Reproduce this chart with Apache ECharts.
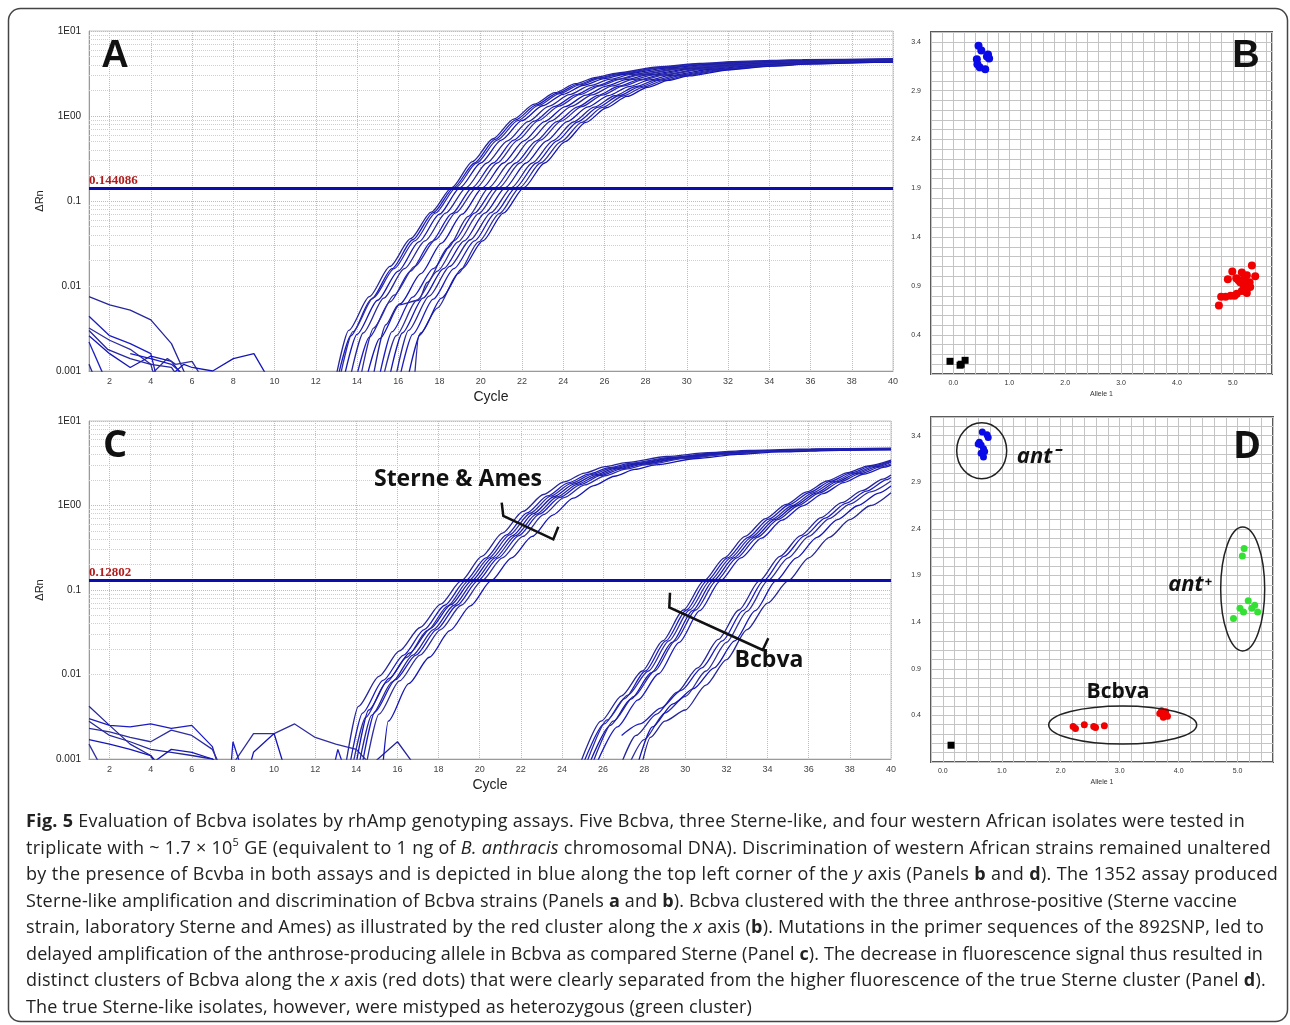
<!DOCTYPE html>
<html><head><meta charset="utf-8">
<script src="https://cdn.jsdelivr.net/npm/echarts@6/dist/echarts.min.js"></script>
<style>
html,body{margin:0;padding:0;background:#fff;}
#chart{position:absolute;left:0;top:0;width:1290px;height:1025px;}
#caption{position:absolute;left:26px;top:807px;font-family:'Open Sans',sans-serif;font-size:18px;line-height:26.5px;color:#222;}
#caption div{white-space:nowrap;}
#caption sup{font-size:11px;line-height:0;vertical-align:8px;}
</style></head><body>
<div id="chart"></div>
<div id="caption">
<div><b>Fig. 5</b> Evaluation of Bcbva isolates by rhAmp genotyping assays. Five Bcbva, three Sterne-like, and four western African isolates were tested in</div>
<div>triplicate with ~ 1.7 × 10<sup>5</sup> GE (equivalent to 1 ng of <i>B. anthracis</i> chromosomal DNA). Discrimination of western African strains remained unaltered</div>
<div>by the presence of Bcvba in both assays and is depicted in blue along the top left corner of the <i>y</i> axis (Panels <b>b</b> and <b>d</b>). The 1352 assay produced</div>
<div>Sterne-like amplification and discrimination of Bcbva strains (Panels <b>a</b> and <b>b</b>). Bcbva clustered with the three anthrose-positive (Sterne vaccine</div>
<div>strain, laboratory Sterne and Ames) as illustrated by the red cluster along the <i>x</i> axis (<b>b</b>). Mutations in the primer sequences of the 892SNP, led to</div>
<div>delayed amplification of the anthrose-producing allele in Bcbva as compared Sterne (Panel <b>c</b>). The decrease in fluorescence signal thus resulted in</div>
<div>distinct clusters of Bcbva along the <i>x</i> axis (red dots) that were clearly separated from the higher fluorescence of the true Sterne cluster (Panel <b>d</b>).</div>
<div>The true Sterne-like isolates, however, were mistyped as heterozygous (green cluster)</div>
</div>
<script>
// ---------- tick labels ----------
const cycleTicks = [2,4,6,8,10,12,14,16,18,20,22,24,26,28,30,32,34,36,38,40];
const logTickText = ['0.001','0.01','0.1','1E00','1E01'];
const alleleXTicks = [0,1,2,3,4,5];
const alleleYTicks = [0.4,0.9,1.4,1.9,2.4,2.9,3.4];
const minorLogLines = [0.002,0.003,0.004,0.005,0.006,0.007,0.008,0.009,0.02,0.03,0.04,0.05,0.06,0.07,0.08,0.09,0.2,0.3,0.4,0.5,0.6,0.7,0.8,0.9,2,3,4,5,6,7,8,9];
const thresholdA = 0.144086;
const thresholdC = 0.12802;

// ---------- Panel A : amplification curves [cycle, dRn] ----------
const A_amp = [
 [[13.0,.0009],[13.6,.003],[14.6,.0075],[15.6,.017],[16.6,.036],[17.6,.074],[18.6,.144],[19.6,.29],[20.6,.54],[21.6,.92],[22.6,1.38],[23.6,1.88],[24.6,2.4],[25.6,2.85],[26.6,3.2],[28.6,3.78],[30.6,4.15],[32.6,4.4],[35.6,4.6],[40,4.72]],
 [[13.1,.0009],[13.7,.0026],[14.7,.007],[15.7,.016],[16.7,.035],[17.7,.073],[18.7,.144],[19.7,.28],[20.7,.53],[21.7,.9],[22.7,1.35],[23.7,1.85],[24.7,2.35],[25.7,2.8],[26.7,3.15],[28.7,3.72],[30.7,4.1],[32.7,4.35],[35.7,4.55],[40,4.65]],
 [[13.2,.0009],[13.8,.0029],[14.8,.0073],[15.8,.016],[16.8,.034],[17.8,.072],[18.8,.144],[19.8,.28],[20.8,.52],[21.8,.88],[22.8,1.33],[23.8,1.82],[24.8,2.32],[25.8,2.78],[26.8,3.12],[28.8,3.7],[30.8,4.05],[32.8,4.32],[35.8,4.52],[40,4.62]],
 [[13.4,.0009],[14.0,.0027],[15.0,.0068],[16.0,.015],[17.0,.033],[18.0,.07],[19.0,.144],[20.0,.28],[21.0,.52],[22.0,.88],[23.0,1.32],[24.0,1.8],[25.0,2.3],[26.0,2.75],[27.0,3.1],[29.0,3.65],[31.0,4.02],[33.0,4.28],[36.0,4.48],[40,4.58]],
 [[13.7,.0009],[14.3,.0028],[15.3,.0072],[16.3,.016],[17.3,.034],[18.3,.072],[19.3,.144],[20.3,.28],[21.3,.51],[22.3,.86],[23.3,1.3],[24.3,1.78],[25.3,2.28],[26.3,2.72],[27.3,3.08],[29.3,3.62],[31.3,4.0],[33.3,4.25],[36.3,4.45],[40,4.56]],
 [[14.0,.0009],[14.6,.0025],[15.6,.0065],[16.6,.015],[17.6,.033],[18.6,.071],[19.6,.144],[20.6,.28],[21.6,.52],[22.6,.87],[23.6,1.3],[24.6,1.77],[25.6,2.26],[26.6,2.7],[27.6,3.05],[29.6,3.6],[31.6,3.96],[33.6,4.2],[36.6,4.4],[40,4.5]],
 [[14.2,.0009],[14.8,.0032],[15.8,.0078],[16.8,.017],[17.8,.035],[18.8,.073],[19.8,.144],[20.8,.28],[21.8,.52],[22.8,.88],[23.8,1.31],[24.8,1.78],[25.8,2.27],[26.8,2.72],[27.8,3.07],[29.8,3.62],[31.8,3.98],[33.8,4.22],[36.8,4.42],[40,4.52]],
 [[14.5,.0009],[15.1,.0024],[16.1,.0062],[17.1,.014],[18.1,.032],[19.1,.07],[20.1,.144],[21.1,.28],[22.1,.51],[23.1,.86],[24.1,1.29],[25.1,1.76],[26.1,2.25],[27.1,2.7],[28.1,3.05],[30.1,3.58],[32.1,3.95],[34.1,4.2],[37.1,4.38],[40,4.46]],
 [[14.8,.0009],[15.4,.0035],[16.0,.006],[17.0,.0068],[17.4,.011],[18.4,.028],[19.4,.066],[20.4,.144],[21.4,.28],[22.4,.52],[23.4,.87],[24.4,1.3],[25.4,1.77],[26.4,2.26],[27.4,2.7],[28.4,3.05],[30.4,3.6],[32.4,3.96],[34.4,4.2],[37.4,4.4],[40,4.48]],
 [[15.1,.0009],[15.7,.0029],[16.7,.0074],[17.7,.016],[18.7,.034],[19.7,.072],[20.7,.144],[21.7,.28],[22.7,.51],[23.7,.86],[24.7,1.28],[25.7,1.75],[26.7,2.24],[27.7,2.68],[28.7,3.03],[30.7,3.57],[32.7,3.94],[34.7,4.17],[37.7,4.35],[40,4.42]],
 [[15.3,.0009],[15.9,.0026],[16.9,.0068],[17.9,.015],[18.9,.033],[19.9,.071],[20.9,.144],[21.9,.28],[22.9,.52],[23.9,.87],[24.9,1.29],[25.9,1.76],[26.9,2.25],[27.9,2.68],[28.9,3.03],[30.9,3.58],[32.9,3.95],[34.9,4.18],[37.9,4.37],[40,4.43]],
 [[15.6,.0009],[16.2,.0028],[17.2,.0072],[18.2,.016],[19.2,.034],[20.2,.072],[21.2,.144],[22.2,.28],[23.2,.51],[24.2,.86],[25.2,1.28],[26.2,1.74],[27.2,2.22],[28.2,2.66],[29.2,3.0],[31.2,3.55],[33.2,3.92],[35.2,4.15],[38.2,4.33],[40,4.38]],
 [[15.9,.0009],[16.5,.003],[17.5,.0076],[18.5,.017],[19.5,.035],[20.5,.073],[21.5,.144],[22.5,.28],[23.5,.51],[24.5,.85],[25.5,1.27],[26.5,1.73],[27.5,2.21],[28.5,2.65],[29.5,3.0],[31.5,3.54],[33.5,3.9],[35.5,4.14],[38.5,4.32],[40,4.36]],
 [[16.1,.0009],[16.7,.0027],[17.7,.007],[18.7,.016],[19.7,.034],[20.7,.072],[21.7,.144],[22.7,.28],[23.7,.51],[24.7,.85],[25.7,1.27],[26.7,1.73],[27.7,2.2],[28.7,2.64],[29.7,2.98],[31.7,3.52],[33.7,3.88],[35.7,4.12],[38.7,4.3],[40,4.34]],
 [[16.8,.0009],[17.0,.0026],[17.9,.0055],[18.9,.014],[19.9,.033],[20.9,.071],[21.9,.144],[22.9,.28],[23.9,.5],[24.9,.84],[25.9,1.26],[26.9,1.72],[27.9,2.19],[28.9,2.63],[29.9,2.97],[31.9,3.51],[33.9,3.87],[35.9,4.1],[38.9,4.28],[40,4.32]],
 [[16.5,.0009],[17.1,.0028],[18.1,.0072],[19.1,.016],[20.1,.034],[21.1,.072],[22.1,.144],[23.1,.28],[24.1,.5],[25.1,.84],[26.1,1.25],[27.1,1.7],[28.1,2.18],[29.1,2.62],[30.1,2.96],[32.1,3.5],[34.1,3.86],[36.1,4.1],[39.1,4.27],[40,4.3]]
];
// Panel A : baseline noise traces
const A_noise = [
 [[1,.0075],[2,.006],[3,.0052],[4,.004],[5,.0021],[5.6,.001],[5.8,.0008]],
 [[1,.0044],[2,.0026],[3,.0021],[4,.0016],[4.3,.0008]],
 [[1,.0032],[2,.0023],[3,.0018],[4,.0012],[4.2,.0008]],
 [[1,.0026],[2,.0016],[3,.0011],[4,.0015],[5,.0013],[5.5,.0009]],
 [[1,.003],[1.9,.0018],[3,.0014],[4,.0012],[5,.0011],[5.4,.0008]],
 [[1,.0022],[1.7,.0009]],
 [[4,.0009],[4.8,.0014],[5.2,.0012],[6,.0013],[6.4,.0009]],
 [[5,.0009],[5.6,.0012],[6,.0011],[7,.001],[8,.0014],[9,.0016],[9.6,.0009]],
 [[1,.0012],[1.3,.0008]],
 [[3,.0016],[4,.0014],[5,.0012],[5.6,.0009]]
];

// ---------- Panel C ----------
const C_sterne = [
 [[13.5,.0009],[14.1,.0042],[15.1,.0095],[16.1,.019],[17.1,.036],[18.1,.068],[19.1,.128],[20.1,.25],[21.1,.47],[22.1,.85],[23.1,1.35],[24.1,1.9],[25.1,2.42],[26.1,2.88],[27.1,3.22],[29.1,3.8],[31.1,4.22],[33.1,4.5],[36.1,4.68],[40,4.78]],
 [[13.7,.0009],[14.3,.0035],[15.3,.0085],[16.3,.017],[17.3,.034],[18.3,.066],[19.3,.128],[20.3,.24],[21.3,.45],[22.3,.82],[23.3,1.3],[24.3,1.85],[25.3,2.35],[26.3,2.8],[27.3,3.15],[29.3,3.72],[31.3,4.15],[33.3,4.42],[36.3,4.62],[40,4.72]],
 [[13.85,.0009],[14.45,.0031],[15.45,.008],[16.45,.016],[17.45,.033],[18.45,.065],[19.45,.128],[20.45,.24],[21.45,.45],[22.45,.81],[23.45,1.29],[24.45,1.83],[25.45,2.33],[26.45,2.78],[27.45,3.13],[29.45,3.7],[31.45,4.12],[33.45,4.4],[36.45,4.6],[40,4.7]],
 [[14.0,.0009],[14.6,.0038],[15.6,.009],[16.6,.018],[17.6,.035],[18.6,.067],[19.6,.128],[20.6,.24],[21.6,.44],[22.6,.8],[23.6,1.27],[24.6,1.8],[25.6,2.3],[26.6,2.75],[27.6,3.1],[29.6,3.68],[31.6,4.1],[33.6,4.38],[36.6,4.58],[40,4.68]],
 [[14.15,.0009],[14.75,.0033],[15.75,.0082],[16.75,.017],[17.75,.034],[18.75,.066],[19.75,.128],[20.75,.24],[21.75,.44],[22.75,.79],[23.75,1.26],[24.75,1.78],[25.75,2.28],[26.75,2.73],[27.75,3.08],[29.75,3.66],[31.75,4.08],[33.75,4.36],[36.75,4.56],[40,4.66]],
 [[14.3,.0009],[14.9,.0036],[15.9,.0087],[16.9,.017],[17.9,.034],[18.9,.066],[19.9,.128],[20.9,.24],[21.9,.44],[22.9,.79],[23.9,1.25],[24.9,1.77],[25.9,2.27],[26.9,2.72],[27.9,3.07],[29.9,3.65],[31.9,4.07],[33.9,4.35],[36.9,4.55],[40,4.64]],
 [[14.5,.0009],[15.1,.0034],[16.1,.0084],[17.1,.017],[18.1,.034],[19.1,.066],[20.1,.128],[21.1,.24],[22.1,.43],[23.1,.78],[24.1,1.24],[25.1,1.75],[26.1,2.25],[27.1,2.7],[28.1,3.05],[30.1,3.63],[32.1,4.05],[34.1,4.33],[37.1,4.53],[40,4.6]],
 [[15.3,.0009],[15.55,.0028],[16.55,.0078],[17.55,.016],[18.55,.033],[19.55,.065],[20.55,.128],[21.55,.24],[22.55,.43],[23.55,.77],[24.55,1.22],[25.55,1.72],[26.55,2.22],[27.55,2.67],[28.55,3.02],[30.55,3.6],[32.55,4.02],[34.55,4.3],[37.55,4.5],[40,4.56]]
];
const C_bcbva_early = [
 [[24.9,.0009],[25.9,.0028],[26.9,.0056],[27.9,.011],[28.9,.025],[29.9,.058],[30.9,.128],[31.9,.24],[32.9,.43],[33.9,.7],[34.9,1.03],[35.9,1.45],[36.9,1.95],[37.9,2.45],[38.9,2.95],[40,3.45]],
 [[25.05,.0009],[26.05,.0026],[27.05,.0052],[28.05,.011],[29.05,.025],[30.05,.058],[31.05,.128],[32.05,.24],[33.05,.42],[34.05,.69],[35.05,1.02],[36.05,1.43],[37.05,1.93],[38.05,2.43],[39.05,2.92],[40,3.38]],
 [[25.2,.0009],[26.2,.0029],[27.2,.0057],[28.2,.011],[29.2,.025],[30.2,.058],[31.2,.128],[32.2,.24],[33.2,.42],[34.2,.68],[35.2,1.0],[36.2,1.41],[37.2,1.91],[38.2,2.41],[39.2,2.9],[40,3.32]],
 [[25.35,.0009],[26.35,.0025],[27.35,.0051],[28.35,.0105],[29.35,.024],[30.35,.057],[31.35,.128],[32.35,.24],[33.35,.42],[34.35,.68],[35.35,1.0],[36.35,1.4],[37.35,1.9],[38.35,2.4],[39.35,2.88],[40,3.25]],
 [[25.5,.0009],[26.5,.0028],[27.5,.0055],[28.5,.011],[29.5,.025],[30.5,.058],[31.5,.128],[32.5,.24],[33.5,.42],[34.5,.68],[35.5,1.0],[36.5,1.4],[37.5,1.89],[38.5,2.38],[39.5,2.86],[40,3.12]],
 [[25.7,.0009],[26.7,.0024],[27.7,.005],[28.7,.0102],[29.7,.024],[30.7,.057],[31.7,.128],[32.7,.24],[33.7,.41],[34.7,.67],[35.7,.99],[36.7,1.38],[37.7,1.87],[38.7,2.36],[39.7,2.84],[40,3.0]]
];
const C_bcbva_late = [
 [[26.9,.0009],[27.6,.0019],[28.6,.0034],[29.6,.0062],[30.6,.012],[31.6,.026],[32.6,.058],[33.6,.128],[34.6,.25],[35.6,.44],[36.6,.72],[37.6,1.08],[38.6,1.5],[39.6,2.05],[40,2.3]],
 [[26.9,.0019],[27.8,.0026],[28.8,.004],[29.8,.0065],[30.8,.012],[31.8,.025],[32.8,.057],[33.8,.128],[34.8,.25],[35.8,.44],[36.8,.71],[37.8,1.06],[38.8,1.48],[39.8,2.02],[40,2.15]],
 [[27.3,.0009],[28,.0017],[29,.0035],[30,.0055],[31,.011],[32,.024],[33,.056],[34,.128],[35,.24],[36,.43],[37,.7],[38,1.04],[39,1.45],[40,1.95]],
 [[27.7,.0009],[28.4,.0024],[29.4,.0045],[30.4,.0068],[31.4,.012],[32.4,.025],[33.4,.057],[34.4,.128],[35.4,.24],[36.4,.42],[37.4,.68],[38.4,1.0],[39.4,1.4],[40,1.7]],
 [[27.9,.0009],[28.3,.0018],[29.0,.0028],[30.0,.0038],[31.0,.0075],[32.0,.015],[33.0,.034],[34.0,.07],[35.0,.128],[36.0,.24],[37.0,.42],[38.0,.68],[39.0,1.0],[40,1.42]]
];
const C_noise = [
 [[1,.0042],[2,.0025],[3,.0015],[4,.0011],[4.3,.0008]],
 [[1,.003],[2,.0025],[3,.0024],[4,.0026],[5,.0023],[6,.0025],[7,.0014],[7.3,.0008]],
 [[1,.0023],[2,.0021],[3,.0018],[4,.0016],[5,.0022],[6,.0019],[7,.0013],[7.4,.0008]],
 [[1,.0017],[2,.0015],[3,.0013],[4,.0011],[4.5,.0008]],
 [[1,.0028],[2,.0019],[3,.0016],[4,.0013],[5,.0012],[6,.0011],[7,.001],[7.5,.0008]],
 [[7.9,.0008],[8,.0016],[8.4,.0008]],
 [[7.9,.0008],[9,.002],[10,.002],[11,.0026],[12,.0018],[13,.0015],[14,.0013],[14.8,.0008]],
 [[8.8,.0008],[9,.0012],[10,.002],[10.5,.0008]],
 [[14.6,.0008],[16,.0016],[16.9,.0008]],
 [[12.9,.0008],[13.1,.0013],[13.4,.0008]],
 [[1,.0015],[1.6,.0008]],
 [[3.8,.0008],[5,.0013],[6,.0012],[7,.001],[7.5,.0008]]
];

// ---------- Panel B : allelic discrimination [allele1, allele2] ----------
const B_blue = [[0.45,3.36],[0.5,3.31],[0.42,3.22],[0.62,3.27],[0.64,3.23],[0.47,3.14],[0.57,3.12],[0.43,3.17],[0.6,3.25]];
const B_red = [[4.75,0.70],[4.79,0.79],[4.87,0.79],[4.96,0.80],[5.03,0.80],[5.07,0.82],[4.91,0.97],[4.99,1.05],[5.06,0.98],[5.16,1.04],[5.25,1.01],[5.34,1.11],[5.40,1.0],[5.13,0.94],[5.19,0.91],[5.28,0.91],[5.22,0.87],[5.31,0.89],[5.25,0.83],[5.16,0.85],[5.10,0.96],[5.30,0.94],[5.19,0.97]];
const B_black = [[-0.06,0.13],[0.14,0.10],[0.21,0.14],[0.12,0.09]];

// ---------- Panel D ----------
const D_blue = [[0.67,3.44],[0.75,3.41],[0.77,3.38],[0.62,3.33],[0.65,3.30],[0.69,3.26],[0.71,3.23],[0.65,3.21],[0.69,3.17],[0.60,3.31]];
const D_green = [[5.11,2.19],[5.08,2.11],[5.18,1.63],[5.04,1.55],[5.10,1.51],[4.93,1.44],[5.29,1.58],[5.34,1.51],[5.24,1.55]];
const D_red = [[2.21,0.28],[2.25,0.26],[2.40,0.30],[2.56,0.28],[2.59,0.27],[2.74,0.29],[3.71,0.45],[3.77,0.42],[3.74,0.38],[3.81,0.39],[3.68,0.42],[3.78,0.44]];
const D_black = [[0.14,0.08]];

// ---------- build ----------
const curveColors = ['#26269c','#1c1cc4','#2e2ea0','#1616b8'];
const series = [];
function addCurves(list, xi, smooth){
  list.forEach((d,i)=>series.push({type:'line', xAxisIndex:xi, yAxisIndex:xi, data:d, showSymbol:false, silent:true,
    smooth: smooth ? 0.25 : false, smoothMonotone: 'x', clip:true, z:3,
    lineStyle:{width:1.3, color:curveColors[i%curveColors.length]}}));
}
function addGrid(xi, thr, label){
  series.push({type:'line', xAxisIndex:xi, yAxisIndex:xi, data:[[1,0.001]], showSymbol:false, silent:true,
    lineStyle:{opacity:0},
    markLine:{silent:true, symbol:'none', z:1, animation:false, label:{show:false},
      lineStyle:{type:'dotted', color:'#cfcfcf', width:1},
      data: minorLogLines.map(v=>({yAxis:v}))}});
  series.push({type:'line', xAxisIndex:xi, yAxisIndex:xi, data:[[1,thr]], showSymbol:false, silent:true,
    lineStyle:{opacity:0},
    markLine:{silent:true, symbol:'none', z:6, animation:false,
      lineStyle:{type:'solid', color:'#0c0cb0', width:3},
      label:{show:true, position:'insideStartTop', distance:[0,1], formatter:label,
        color:'#b01c1c', fontFamily:'Liberation Serif', fontWeight:'bold', fontSize:13},
      data:[{yAxis:thr}]}});
}
addGrid(0, thresholdA, String(thresholdA));
addGrid(2, thresholdC, String(thresholdC));
addCurves(A_noise, 0, false);
addCurves(A_amp, 0, true);
addCurves(C_noise, 2, false);
addCurves(C_sterne, 2, true);
addCurves(C_bcbva_early, 2, true);
addCurves(C_bcbva_late, 2, true);

function addScatter(data, xi, color, symbol, size){
  series.push({type:'scatter', xAxisIndex:xi, yAxisIndex:xi, data:data, symbol:symbol, symbolSize:size, silent:true, z:4,
    itemStyle:{color:color, opacity:1}});
}
addScatter(B_blue, 1, '#0a0ae8', 'circle', 8);
addScatter(B_red, 1, '#f00000', 'circle', 8);
addScatter(B_black, 1, '#000000', 'rect', 7);
addScatter(D_blue, 3, '#0a0ae8', 'circle', 7);
addScatter(D_green, 3, '#33e033', 'circle', 7);
addScatter(D_red, 3, '#f00000', 'circle', 7);
addScatter(D_black, 3, '#000000', 'rect', 7);

function logFmt(v){ const k = Math.round(Math.log10(v)) + 3; return logTickText[k] || ''; }
function qpcrX(gi, nameGap){
  return {gridIndex:gi, type:'value', min:1, max:40,
    axisLine:{show:true, lineStyle:{color:'#9a9a9a'}},
    axisTick:{show:false, customValues:cycleTicks},
    axisLabel:{customValues:cycleTicks, fontSize:9, color:'#444', margin:6, fontFamily:'Liberation Sans'},
    splitLine:{show:true, lineStyle:{type:'dotted', color:'#bdbdbd'}},
    name:'Cycle', nameLocation:'middle', nameGap:nameGap, nameTextStyle:{fontSize:14, color:'#222', fontFamily:'Liberation Sans'}};
}
function qpcrY(gi){
  return {gridIndex:gi, type:'log', logBase:10, min:0.001, max:10,
    axisLine:{show:true, lineStyle:{color:'#9a9a9a'}}, axisTick:{show:false},
    axisLabel:{formatter:logFmt, fontSize:10, color:'#222', margin:8, fontFamily:'Liberation Sans'},
    splitLine:{show:true, lineStyle:{type:'dotted', color:'#bdbdbd'}},
    name:'ΔRn', nameLocation:'middle', nameGap:44, nameRotate:90, nameTextStyle:{fontSize:11, color:'#222', fontFamily:'Liberation Sans'}};
}
function alleleX(gi, min, max){
  return {gridIndex:gi, type:'value', min:min, max:max, interval:0.2,
    axisLine:{show:false}, axisTick:{show:false},
    axisLabel:{customValues:alleleXTicks, formatter:v=>v.toFixed(1), fontSize:7, color:'#333', margin:6},
    splitLine:{show:true, lineStyle:{color:'#c4c4c4', width:1}},
    name:'Allele 1', nameLocation:'middle', nameGap:17, nameTextStyle:{fontSize:7, color:'#333'}};
}
function alleleY(gi, min, max){
  return {gridIndex:gi, type:'value', min:min, max:max, interval:0.1,
    axisLine:{show:false}, axisTick:{show:false},
    axisLabel:{customValues:alleleYTicks, formatter:v=>v.toFixed(1), fontSize:7, color:'#333', margin:10},
    splitLine:{show:true, lineStyle:{color:'#c4c4c4', width:1}}};
}

const T = (text, x, y, font, color) => ({type:'text', z:100, x:x, y:y, style:{text:text, font:font, fill:color||'#111', align:'center', verticalAlign:'middle', textAlign:'center', textVerticalAlign:'middle'}});
const graphic = [
  {type:'rect', z:0, shape:{x:8.5, y:8.5, width:1279, height:1013, r:12}, style:{fill:'none', stroke:'#444', lineWidth:1.5}},
  T('A', 115, 57, 'bold 38px "Liberation Sans"'),
  T('B', 1246, 57, 'bold 38px "Liberation Sans"'),
  T('C', 115, 446, 'bold 38px "Open Sans"'),
  T('D', 1247, 447, 'bold 38px "Open Sans"'),
  T('Sterne & Ames', 458, 479, 'bold 23px "Open Sans"'),
  {type:'polyline', z:100, shape:{points:[[501.7,502.7],[503.3,516],[553.3,539.3],[558.3,526.7]]}, style:{stroke:'#111', lineWidth:2.5, fill:null}},
  T('Bcbva', 769, 660, 'bold 23px "Open Sans"'),
  {type:'polyline', z:100, shape:{points:[[670,592.7],[669.3,607.5],[762.7,650],[768.3,638.3]]}, style:{stroke:'#111', lineWidth:2.5, fill:null}},
  {type:'ellipse', z:100, shape:{cx:981.7, cy:450.7, rx:25, ry:28}, style:{fill:'none', stroke:'#222', lineWidth:1.5}},
  {type:'ellipse', z:100, shape:{cx:1242.7, cy:589, rx:22, ry:62}, style:{fill:'none', stroke:'#222', lineWidth:1.5}},
  {type:'ellipse', z:100, shape:{cx:1122.7, cy:725, rx:74, ry:19}, style:{fill:'none', stroke:'#222', lineWidth:1.5}},
  T('ant⁻', 1038, 457, 'italic bold 22px "Open Sans"'),
  T('ant⁺', 1190, 585, 'italic bold 22px "Open Sans"'),
  T('Bcbva', 1118, 692, 'bold 21px "Open Sans"')
];

const option = {
  animation:false,
  backgroundColor:'#ffffff',
  grid:[
    {left:89, top:31, width:804, height:340, show:true, borderColor:'#c6c6c6', borderWidth:1},
    {left:931, top:32, width:341, height:342, show:true, borderColor:'#5a5a5a', borderWidth:2},
    {left:89, top:421, width:802, height:338, show:true, borderColor:'#c6c6c6', borderWidth:1},
    {left:931, top:417, width:342, height:345, show:true, borderColor:'#5a5a5a', borderWidth:2}
  ],
  xAxis:[qpcrX(0,19), alleleX(1,-0.4,5.7), qpcrX(2,19), alleleX(3,-0.2,5.6)],
  yAxis:[qpcrY(0), alleleY(1,0,3.5), qpcrY(2), alleleY(3,-0.1,3.6)],
  series:series,
  graphic:graphic
};
const chart = echarts.init(document.getElementById('chart'), null, {renderer:'canvas'});
chart.setOption(option);

// fit caption lines to the reference line widths
const targetWidths = [1219,1245,1252,1211,1238,1237,1240,726];
document.querySelectorAll('#caption div').forEach((el,i)=>{
  el.style.display='inline-block';
  const w = el.getBoundingClientRect().width;
  const n = el.textContent.length;
  const ls = (targetWidths[i]-w)/n;
  el.style.letterSpacing = ls.toFixed(3)+'px';
  el.style.display='block';
});
</script>
</body></html>
